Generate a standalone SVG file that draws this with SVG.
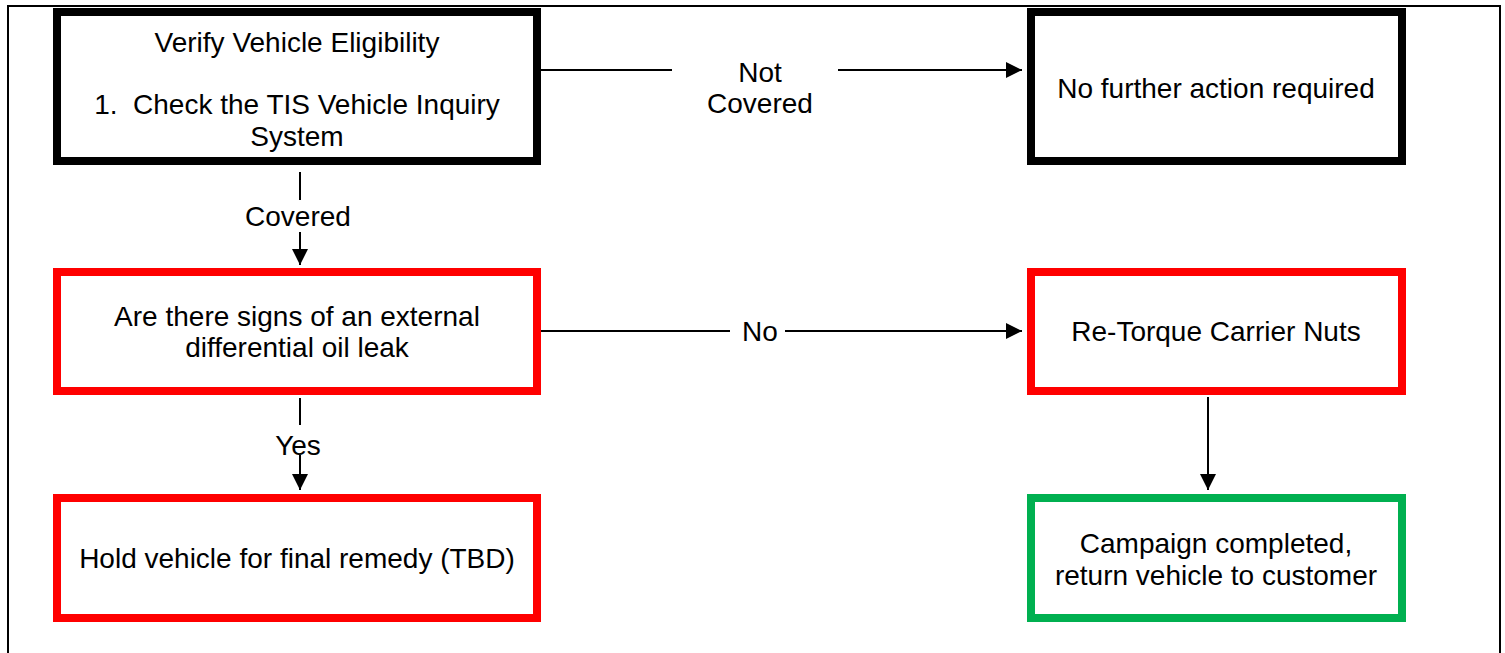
<svg xmlns="http://www.w3.org/2000/svg" width="1505" height="653" viewBox="0 0 1505 653">
<defs>
<marker id="ah" markerWidth="8" markerHeight="8" refX="8" refY="4" orient="auto" markerUnits="strokeWidth">
<path d="M0,0 L8,4 L0,8 Z" fill="#000"/>
</marker>
</defs>
<style>
.box{fill:#fff;stroke-width:8}
.blk{stroke:#000}
.red{stroke:#ff0000}
.grn{stroke:#00b050}
.t{font-family:"Liberation Sans",Arial,sans-serif;font-size:28px;fill:#000;text-anchor:middle}
.c{stroke:#000;stroke-width:2;fill:none}
.frame{stroke:#000;stroke-width:2;fill:none}
</style>
<rect width="1505" height="653" fill="#fff"/>
<path class="frame" d="M8,653 V6 H1500 V653"/>
<g id="connectors">
<line class="c" x1="541" y1="70" x2="672" y2="70"/>
<line class="c" x1="838" y1="70" x2="1022" y2="70" marker-end="url(#ah)"/>
<line class="c" x1="300" y1="172" x2="300" y2="200"/>
<line class="c" x1="300" y1="232" x2="300" y2="265" marker-end="url(#ah)"/>
<line class="c" x1="541" y1="331" x2="730" y2="331"/>
<line class="c" x1="785" y1="331" x2="1022" y2="331" marker-end="url(#ah)"/>
<line class="c" x1="300" y1="398" x2="300" y2="425"/>
<line class="c" x1="300" y1="455" x2="300" y2="490" marker-end="url(#ah)"/>
<line class="c" x1="1208" y1="397" x2="1208" y2="490" marker-end="url(#ah)"/>
<text class="t" x="760" y="82">Not</text>
<text class="t" x="760" y="113">Covered</text>
<text class="t" x="298" y="226">Covered</text>
<text class="t" x="760" y="341">No</text>
<text class="t" x="298" y="455">Yes</text>
</g>
<g id="n1">
<rect class="box blk" x="57" y="12" width="480" height="149"/>
<text class="t" x="297" y="52">Verify Vehicle Eligibility</text>
<text class="t" x="297" y="114" xml:space="preserve">1.  Check the TIS Vehicle Inquiry</text>
<text class="t" x="297" y="146">System</text>
</g>
<g id="n2">
<rect class="box blk" x="1031" y="12" width="371" height="149"/>
<text class="t" x="1216" y="98">No further action required</text>
</g>
<g id="n3">
<rect class="box red" x="57" y="272" width="480" height="119"/>
<text class="t" x="297" y="326">Are there signs of an external</text>
<text class="t" x="297" y="357">differential oil leak</text>
</g>
<g id="n4">
<rect class="box red" x="1031" y="272" width="371" height="119"/>
<text class="t" x="1216" y="341">Re-Torque Carrier Nuts</text>
</g>
<g id="n5">
<rect class="box red" x="57" y="498" width="480" height="120"/>
<text class="t" x="297" y="568">Hold vehicle for final remedy (TBD)</text>
</g>
<g id="n6">
<rect class="box grn" x="1031" y="498" width="371" height="120"/>
<text class="t" x="1216" y="553">Campaign completed,</text>
<text class="t" x="1216" y="585">return vehicle to customer</text>
</g>
</svg>
